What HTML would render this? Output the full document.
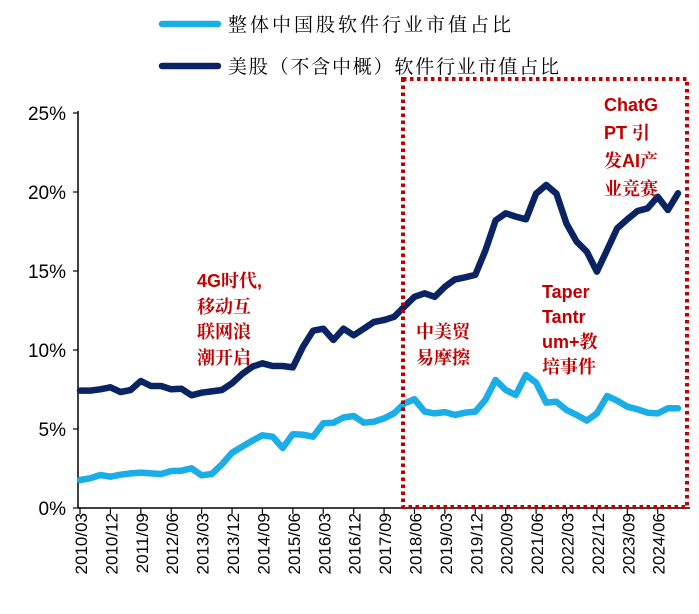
<!DOCTYPE html>
<html><head><meta charset="utf-8"><style>
body{margin:0;background:#fff;}
svg text{font-family:"Liberation Sans","Noto Sans CJK SC",sans-serif;}
.ann{fill:#c00000;font-weight:bold;font-size:18px;font-family:"Liberation Sans","Noto Serif CJK SC",serif;}
.leg{font-family:"Liberation Serif","Noto Serif CJK SC",serif;}
</style></head><body>
<svg id="chart" width="699" height="609" viewBox="0 0 699 609" xmlns="http://www.w3.org/2000/svg">
<g>
<line x1="162" y1="24" x2="218" y2="24" stroke="#1aaee8" stroke-width="6.5" stroke-linecap="round"/>
<text class="leg" x="228" y="31" font-size="19" letter-spacing="3">整体中国股软件行业市值占比</text>
<line x1="162" y1="66" x2="218" y2="66" stroke="#0a2463" stroke-width="6.5" stroke-linecap="round"/>
<text class="leg" x="228" y="73" font-size="19" letter-spacing="1.8">美股（不含中概）软件行业市值占比</text>
</g>
<g id="axes"></g>
<g id="series"></g>
<rect x="403" y="79" width="284" height="428" fill="none" stroke="#c00000" stroke-width="4" stroke-dasharray="3.5,3.5"/>
<g>
<text class="ann" x="197" y="287">4G时代,</text>
<text class="ann" x="197" y="313">移动互</text>
<text class="ann" x="197" y="338">联网浪</text>
<text class="ann" x="197" y="364">潮开启</text>
</g>
<g>
<text class="ann" x="416" y="338">中美贸</text>
<text class="ann" x="416" y="364">易摩擦</text>
</g>
<g>
<text class="ann" x="542" y="298">Taper</text>
<text class="ann" x="542" y="323">Tantr</text>
<text class="ann" x="542" y="348">um+教</text>
<text class="ann" x="542" y="373">培事件</text>
</g>
<g>
<text class="ann" x="604" y="111">ChatG</text>
<text class="ann" x="604" y="139">PT 引</text>
<text class="ann" x="604" y="167">发AI产</text>
<text class="ann" x="604" y="195">业竞赛</text>
</g>
</svg>
<script>
const usShare=[7.43,7.43,7.51,7.64,7.34,7.47,8.04,7.72,7.72,7.51,7.55,7.13,7.30,7.38,7.47,7.89,8.48,8.94,9.16,8.99,8.99,8.90,10.21,11.22,11.35,10.63,11.35,10.93,11.35,11.77,11.90,12.10,12.74,13.37,13.59,13.37,14.0,14.47,14.6,14.75,16.3,18.2,18.65,18.44,18.27,19.9,20.44,19.9,18.0,16.86,16.22,14.96,16.33,17.7,18.27,18.8,18.97,19.7,18.86,19.92];
const chinaShare=[1.77,1.88,2.09,1.98,2.11,2.19,2.24,2.19,2.15,2.34,2.36,2.51,2.07,2.15,2.76,3.5,3.88,4.26,4.6,4.51,3.8,4.68,4.64,4.51,5.36,5.4,5.73,5.82,5.4,5.46,5.67,6.0,6.62,6.88,6.1,5.99,6.07,5.89,6.03,6.1,6.84,8.1,7.47,7.15,8.42,7.93,6.67,6.73,6.2,5.89,5.53,5.99,7.09,6.79,6.41,6.25,6.03,5.99,6.31,6.31];
const yTicks=[0,5,10,15,20,25];
const xTickLabels=["2010/03","2010/12","2011/09","2012/06","2013/03","2013/12","2014/09","2015/06","2016/03","2016/12","2017/09","2018/06","2019/03","2019/12","2020/09","2021/06","2022/03","2022/12","2023/09","2024/06"];
const NS="http://www.w3.org/2000/svg";
const X0=80,X1=678,Y0=508,Y25=113;
const n=usShare.length;
function xs(i){return X0+(X1-X0)*i/(n-1);}
function ys(v){return Y0-(Y0-Y25)*v/25;}
function mk(tag,attrs,parent){const e=document.createElementNS(NS,tag);for(const k in attrs)e.setAttribute(k,attrs[k]);parent.appendChild(e);return e;}
const axes=document.getElementById('axes');
const ya=mk('line',{x1:78,y1:ys(25)-2,x2:78,y2:Y0,stroke:'#000','stroke-width':1.5},axes);


const xa=mk('line',{x1:78,y1:Y0,x2:690,y2:Y0,stroke:'#000','stroke-width':1.5},axes);


yTicks.forEach(v=>{
  const t=mk('line',{x1:73,y1:ys(v),x2:78,y2:ys(v),stroke:'#000','stroke-width':1.2},axes);
  
  
  const l=mk('text',{x:66,y:ys(v)+7,'text-anchor':'end','font-size':19},axes);
  l.textContent=v+'%';
  
  
});
xTickLabels.forEach((lab,k)=>{
  const x=xs(k*3);
  const t=mk('line',{x1:x,y1:Y0,x2:x,y2:Y0+6,stroke:'#000','stroke-width':1.2},axes);
  
  
  const l=mk('text',{x:0,y:0,'text-anchor':'end','font-size':17,transform:`translate(${x+7},${Y0+5}) rotate(-90)`},axes);
  l.textContent=lab;
  
  
});
const series=document.getElementById('series');
function line(data,color,name){
  const d=data.map((v,i)=>(i?'L':'M')+xs(i).toFixed(1)+','+ys(v).toFixed(1)).join('');
  const p=mk('path',{d:d,fill:'none',stroke:color,'stroke-width':6.5,'stroke-linejoin':'round','stroke-linecap':'round'},series);
  
  
}
line(chinaShare,'#1aaee8','china-software-share-line');
line(usShare,'#0a2463','us-software-share-line');
</script>
</body></html>
